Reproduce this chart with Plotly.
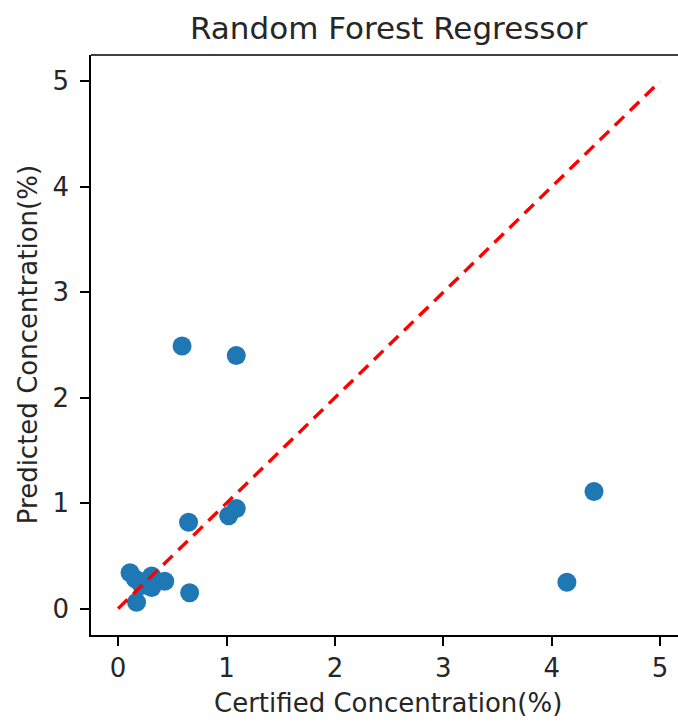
import plotly.graph_objects as go

# Data
certified = [0.11, 0.16, 0.20, 0.22, 0.31, 0.31, 0.43, 0.17, 0.65, 0.66, 1.02, 1.09, 0.59, 1.09, 4.14, 4.39]
predicted = [0.34, 0.28, 0.26, 0.22, 0.31, 0.20, 0.26, 0.06, 0.82, 0.15, 0.88, 0.95, 2.49, 2.40, 0.25, 1.11]
diag = [0, 5]
x_ticks = [0, 1, 2, 3, 4, 5]
y_ticks = [0, 1, 2, 3, 4, 5]

title_text = "Random Forest Regressor"
x_label = "Certified Concentration(%)"
y_label = "Predicted Concentration(%)"

FONT = "DejaVu Sans"

fig = go.Figure()
fig.add_trace(go.Scatter(
    x=certified, y=predicted, mode="markers",
    marker=dict(color="#1f77b4", size=19, line=dict(width=0)),
    showlegend=False, cliponaxis=False,
))
fig.add_trace(go.Scatter(
    x=diag, y=diag, mode="lines",
    line=dict(color="red", width=3.4, dash="13px,8px"),
    showlegend=False,
))

axis_common = dict(
    showgrid=False, zeroline=False, showline=True, linecolor="black", linewidth=1.5,
    ticks="outside", ticklen=9, tickwidth=1.5, tickcolor="black",
    tickfont=dict(family=FONT, size=26, color="#262626"),
)
fig.update_xaxes(range=[-0.25, 5.165], tickvals=x_ticks, mirror=False, ticklabelstandoff=0, **axis_common)
fig.update_yaxes(range=[-0.25, 5.25], tickvals=y_ticks, ticklabelstandoff=6, **axis_common)

fig.update_layout(
    width=678, height=724,
    margin=dict(l=91, r=0, t=55, b=89),
    plot_bgcolor="white", paper_bgcolor="white",
    shapes=[dict(type="line", xref="paper", yref="paper", x0=0, x1=1, y0=1, y1=1,
                 line=dict(color="black", width=1.5))],
    annotations=[
        dict(text=title_text, xref="paper", yref="paper", x=0.5068, y=1.047,
             xanchor="center", yanchor="middle", showarrow=False,
             font=dict(family=FONT, size=31, color="#262626")),
        dict(text=x_label, xref="paper", yref="paper", x=0.5068, y=-0.117,
             xanchor="center", yanchor="middle", showarrow=False,
             font=dict(family=FONT, size=26, color="#262626")),
        dict(text=y_label, xref="paper", yref="paper", x=-0.107, y=0.5,
             xanchor="center", yanchor="middle", showarrow=False, textangle=-90,
             font=dict(family=FONT, size=26, color="#262626")),
    ],
)

fig.write_html("out.html")
